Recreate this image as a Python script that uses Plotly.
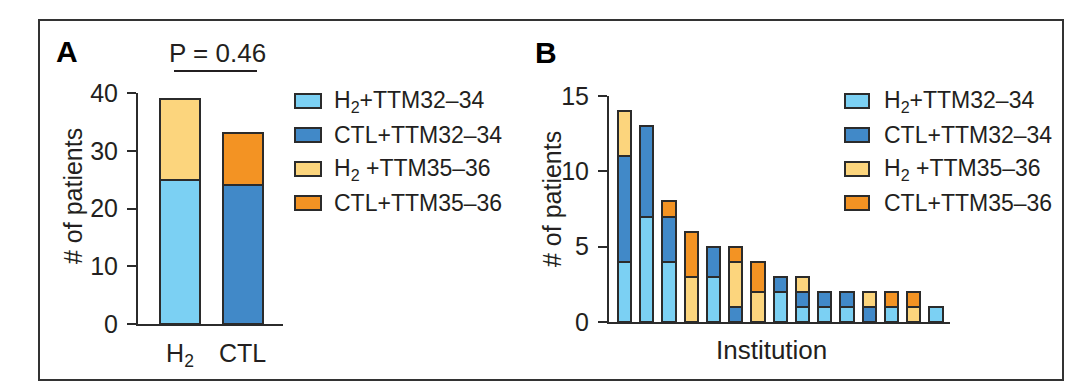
import plotly.graph_objects as go

# ---------------- data ----------------
series_names = ["H<sub>2</sub>+TTM32–34", "CTL+TTM32–34", "H<sub>2</sub> +TTM35–36", "CTL+TTM35–36"]
colors = ["#7bd0f3", "#4189c8", "#fcd57d", "#f39323"]

# Panel A
groups_a = ["H2", "CTL"]
group_labels_a = ["H<sub>2</sub>", "CTL"]
a_h2_32 = [25, 0]
a_ctl_32 = [0, 24]
a_h2_35 = [14, 0]
a_ctl_35 = [0, 9]

# Panel B (institutions 1..15)
institutions = list(range(1, 16))
b_h2_32 = [4, 7, 4, 0, 3, 0, 0, 2, 1, 1, 1, 0, 1, 0, 1]
b_ctl_32 = [7, 6, 3, 0, 2, 1, 0, 1, 1, 1, 1, 1, 0, 0, 0]
b_h2_35 = [3, 0, 0, 3, 0, 3, 2, 0, 1, 0, 0, 1, 0, 1, 0]
b_ctl_35 = [0, 0, 1, 3, 0, 1, 2, 0, 0, 0, 0, 0, 1, 1, 0]

ticks_a = [0, 10, 20, 30, 40]
ticks_b = [0, 5, 10, 15]
p_text = "P = 0.46"

# ---------------- layout helpers ----------------
W, H = 1080, 392
OFF = 8  # page body margin offset
def px(x):
    return (x - OFF) / W
def py(y):
    return 1 - (y - OFF) / H

FONT = "Liberation Sans, Arial, sans-serif"
TXT = "#231f20"
LINE = "#2b2b2b"

fig = go.Figure()

a_vals = [a_h2_32, a_ctl_32, a_h2_35, a_ctl_35]
for name, col, vals in zip(series_names, colors, a_vals):
    fig.add_trace(go.Bar(x=list(range(len(groups_a))), y=vals, name=name, width=0.64,
                         marker=dict(color=col, line=dict(color=LINE, width=2)),
                         xaxis="x", yaxis="y", showlegend=False))

b_vals = [b_h2_32, b_ctl_32, b_h2_35, b_ctl_35]
xb = [i - 1 for i in institutions]
for name, col, vals in zip(series_names, colors, b_vals):
    fig.add_trace(go.Bar(x=xb, y=vals, name=name, width=0.6,
                         marker=dict(color=col, line=dict(color=LINE, width=2)),
                         xaxis="x2", yaxis="y2", showlegend=False))

axis_common = dict(showgrid=False, zeroline=False, showline=True, linecolor=LINE, linewidth=2,
                   automargin=False,
                   tickfont=dict(family=FONT, size=25, color=TXT), fixedrange=True)

fig.update_layout(
    template="none",
    width=W, height=H, margin=dict(l=0, r=0, t=0, b=0, pad=0, autoexpand=False),
    paper_bgcolor="white", plot_bgcolor="white", barmode="stack", bargap=0,
    xaxis=dict(domain=[px(138), px(283)], range=[-0.672, 1.648], anchor="y",
               tickvals=[0, 1], ticktext=group_labels_a, ticks="outside", ticklen=6,
               tickcolor="rgba(0,0,0,0)", **axis_common),
    yaxis=dict(domain=[py(324), py(93)], range=[0, 40], anchor="x",
               tickvals=ticks_a, ticks="outside", ticklen=9, tickwidth=2, tickcolor=LINE,
               ticklabelstandoff=4, **axis_common),
    xaxis2=dict(domain=[px(609), px(950)], range=[-0.697, 14.63], anchor="y2",
                showticklabels=False, ticks="", **axis_common),
    yaxis2=dict(domain=[py(322), py(96)], range=[0, 15], anchor="x2",
                tickvals=ticks_b, ticks="outside", ticklen=9, tickwidth=2, tickcolor=LINE,
                ticklabelstandoff=4, **axis_common),
)

shapes = []
annotations = []
# frame
shapes.append(dict(type="rect", xref="paper", yref="paper", x0=px(39), x1=px(1063), y0=py(380), y1=py(20),
                   line=dict(color="#333333", width=2)))
# P-value line
shapes.append(dict(type="line", xref="paper", yref="paper", x0=px(174), x1=px(257), y0=py(71), y1=py(71),
                   line=dict(color=TXT, width=2)))
annotations.append(dict(text=p_text, xref="paper", yref="paper", x=px(217), y=py(53), showarrow=False,
                        xanchor="center", yanchor="middle", font=dict(family=FONT, size=26, color=TXT)))
# panel letters
annotations.append(dict(text="<b>A</b>", xref="paper", yref="paper", x=px(67), y=py(51), showarrow=False,
                        xanchor="center", yanchor="middle", font=dict(family=FONT, size=30, color="black")))
annotations.append(dict(text="<b>B</b>", xref="paper", yref="paper", x=px(546), y=py(53), showarrow=False,
                        xanchor="center", yanchor="middle", font=dict(family=FONT, size=30, color="black")))
# y titles
annotations.append(dict(text="# of patients", xref="paper", yref="paper", x=px(73), y=py(196), showarrow=False,
                        textangle=-90, xanchor="center", yanchor="middle", font=dict(family=FONT, size=25, color=TXT)))
annotations.append(dict(text="# of patients", xref="paper", yref="paper", x=px(552), y=py(199), showarrow=False,
                        textangle=-90, xanchor="center", yanchor="middle", font=dict(family=FONT, size=25, color=TXT)))
annotations.append(dict(text="Institution", xref="paper", yref="paper", x=px(771), y=py(350), showarrow=False,
                        xanchor="center", yanchor="middle", font=dict(family=FONT, size=26, color=TXT)))

# manual legends
rows = [101, 135, 169, 203]
for (bx0, bx1, tx) in [(295, 321, 332), (845, 869, 882)]:
    for name, col, ry in zip(series_names, colors, rows):
        shapes.append(dict(type="rect", xref="paper", yref="paper", x0=px(bx0), x1=px(bx1),
                           y0=py(ry + 7), y1=py(ry - 7), fillcolor=col, line=dict(color=LINE, width=2)))
        annotations.append(dict(text=name, xref="paper", yref="paper", x=px(tx), y=py(ry), showarrow=False,
                                xanchor="left", yanchor="middle", font=dict(family=FONT, size=23, color=TXT)))

fig.update_layout(shapes=shapes, annotations=annotations)
fig.write_html("out.html")
